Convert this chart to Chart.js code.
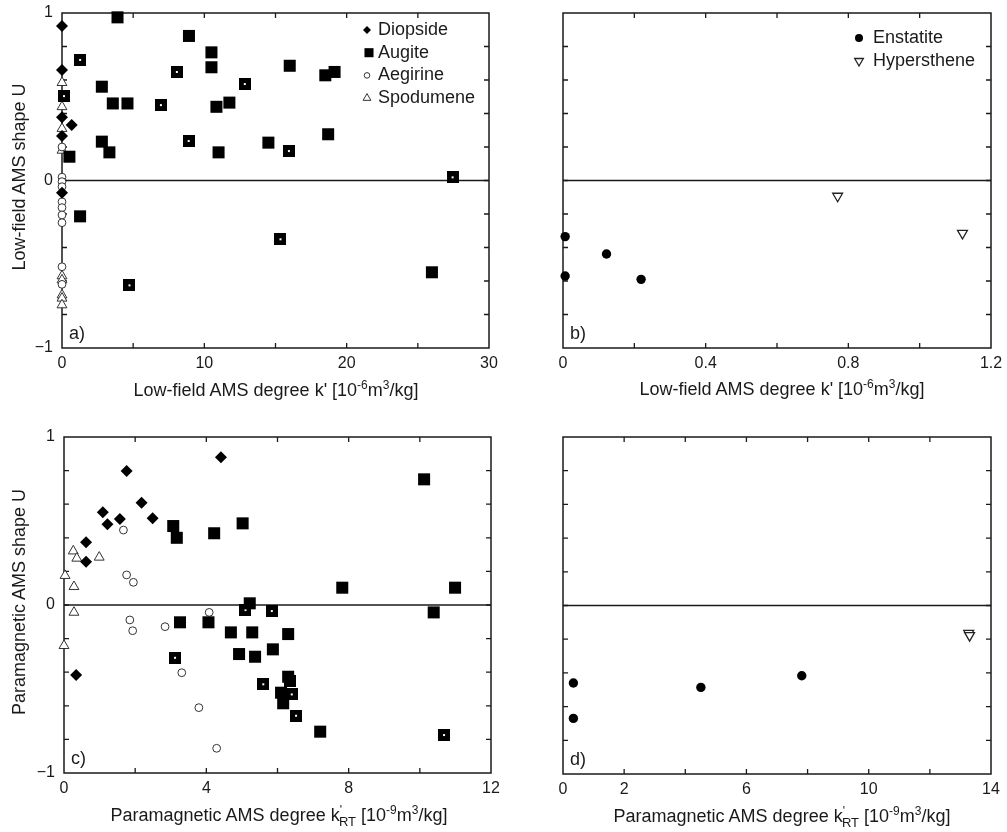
<!DOCTYPE html>
<html lang="en">
<head>
<meta charset="UTF-8">
<title>AMS shape U vs AMS degree</title>
<script src="https://cdn.jsdelivr.net/npm/chart.js"></script>
<style>
    body, html {
        margin: 0;
        padding: 0;
        background: #fff;
        font-family: 'Liberation Sans', Arial, sans-serif;
        color: #1a1a1a;
    }
    .page { position: relative; width: 1007px; height: 832px; overflow: hidden; }
    .panel { position: absolute; }
    .xt, .yt {
        position: absolute;
        white-space: nowrap;
        font-size: 18px;
        line-height: 20px;
    }
    .xt { transform: translate(-50%, -50%); }
    .yt { transform: translate(-50%, -50%) rotate(-90deg); }
    sup { font-size: 12px; vertical-align: 7px; line-height: 0; }
    sub { font-size: 13px; vertical-align: -5px; line-height: 0; }
</style>
</head>
<body>
<div class="page">
    <canvas id="chartA" class="panel" width="500" height="410" style="left:0;top:0"></canvas>
    <canvas id="chartB" class="panel" width="507" height="410" style="left:500px;top:0"></canvas>
    <canvas id="chartC" class="panel" width="500" height="412" style="left:0;top:420px"></canvas>
    <canvas id="chartD" class="panel" width="507" height="412" style="left:500px;top:420px"></canvas>

    <div class="yt" style="left:19px;top:177px">Low-field AMS shape U</div>
    <div class="yt" style="left:19px;top:602px">Paramagnetic AMS shape U</div>
    <div class="xt" style="left:276px;top:390px">Low-field AMS degree k' [10<sup>-6</sup>m<sup>3</sup>/kg]</div>
    <div class="xt" style="left:782px;top:389px">Low-field AMS degree k' [10<sup>-6</sup>m<sup>3</sup>/kg]</div>
    <div class="xt" style="left:279px;top:815px">Paramagnetic AMS degree k<sup>'</sup><sub style="margin-left:-3px">RT</sub> [10<sup>-9</sup>m<sup>3</sup>/kg]</div>
    <div class="xt" style="left:782px;top:816px">Paramagnetic AMS degree k<sup>'</sup><sub style="margin-left:-3px">RT</sub> [10<sup>-9</sup>m<sup>3</sup>/kg]</div>
</div>

<script>
// ---- panel a: low-field AMS (pyroxenes) ----
const aDiopsideX = [0, 0, 0, 0.68, 0, 0];
const aDiopsideY = [0.922, 0.66, 0.377, 0.331, 0.266, -0.073];
const aAugiteX = [3.9, 2.8, 3.57, 4.6, 8.92, 10.5, 10.5, 10.85, 11.76, 16.0, 18.5, 19.15, 18.7, 2.8, 3.33, 0.52, 11.0, 14.5, 25.99, 1.27];
const aAugiteY = [0.974, 0.56, 0.46, 0.46, 0.863, 0.765, 0.676, 0.44, 0.465, 0.685, 0.628, 0.648, 0.276, 0.232, 0.168, 0.142, 0.168, 0.226, -0.548, -0.214];
const aAugiteDotX = [1.27, 0.14, 6.95, 8.07, 12.84, 8.9, 15.94, 27.44, 15.35, 4.74];
const aAugiteDotY = [0.72, 0.504, 0.45, 0.648, 0.576, 0.236, 0.176, 0.019, -0.351, -0.626];
const aAegirineX = [0, 0, 0, 0, 0, 0, 0, 0, 0, 0];
const aAegirineY = [0.2, 0.02, -0.007, -0.037, -0.127, -0.162, -0.206, -0.252, -0.515, -0.62];
const aSpodumeneX = [0, 0, 0, 0, 0, 0, 0, 0, 0];
const aSpodumeneY = [0.584, 0.44, 0.31, 0.18, -0.57, -0.594, -0.684, -0.703, -0.743];

// ---- panel b: low-field AMS (orthopyroxenes) ----
const bEnstatiteX = [0.006, 0.006, 0.122, 0.219];
const bEnstatiteY = [-0.335, -0.57, -0.439, -0.59];
const bHyperstheneX = [0.77, 1.12];
const bHyperstheneY = [-0.093, -0.315];

// ---- panel c: paramagnetic AMS (pyroxenes) ----
const cDiopsideX = [4.41, 1.76, 2.18, 2.49, 1.09, 1.22, 1.57, 0.62, 0.62, 0.34];
const cDiopsideY = [0.879, 0.798, 0.609, 0.516, 0.552, 0.48, 0.512, 0.373, 0.258, -0.417];
const cAugiteX = [3.07, 3.17, 4.22, 5.02, 10.12, 7.82, 10.99, 10.39, 7.2, 3.26, 4.06, 4.69, 5.29, 4.92, 5.37, 5.22, 5.87, 6.3, 6.3, 6.1, 6.16];
const cAugiteY = [0.47, 0.40, 0.427, 0.486, 0.748, 0.103, 0.103, -0.044, -0.754, -0.103, -0.103, -0.163, -0.163, -0.292, -0.308, 0.01, -0.264, -0.173, -0.427, -0.522, -0.585];
const cAugiteDotX = [10.68, 3.12, 5.1, 5.84, 5.6, 6.35, 6.4, 6.52];
const cAugiteDotY = [-0.774, -0.314, -0.03, -0.036, -0.472, -0.452, -0.532, -0.659];
const cAegirineX = [1.67, 1.76, 1.95, 1.85, 1.93, 2.84, 3.31, 3.79, 4.08, 4.29];
const cAegirineY = [0.446, 0.179, 0.135, -0.089, -0.153, -0.129, -0.403, -0.611, -0.044, -0.853];
const cSpodumeneX = [0.26, 0.36, 0.99, 0.03, 0.28, 0.28, 0];
const cSpodumeneY = [0.321, 0.278, 0.284, 0.175, 0.109, -0.044, -0.242];

// ---- panel d: paramagnetic AMS (orthopyroxenes) ----
const dEnstatiteX = [0.34, 0.34, 4.51, 7.81];
const dEnstatiteY = [-0.46, -0.67, -0.486, -0.417];
const dHyperstheneX = [13.27, 13.3];
const dHyperstheneY = [-0.165, -0.178];

// tick labels
const yTickLabels = [-1, 0, 1];
const aTickLabels = [0, 10, 20, 30];
const bTickLabels = [0, 0.4, 0.8, 1.2];
const cTickLabels = [0, 4, 8, 12];
const dTickLabels = [0, 2, 6, 10, 14];

Chart.defaults.font.family = "'Liberation Sans', Arial, sans-serif";
Chart.defaults.color = '#1a1a1a';

function pts(xs, ys) {
    return xs.map((x, i) => ({ x: x, y: ys[i] }));
}

// square with a small white dot in the middle
const dotSquare = document.createElement('canvas');
dotSquare.width = 12;
dotSquare.height = 12;
(function () {
    const c = dotSquare.getContext('2d');
    c.fillStyle = '#000';
    c.fillRect(0, 0, 12, 12);
    c.fillStyle = '#fff';
    c.fillRect(5, 5, 2, 2);
})();

const styles = {
    diopside:  { pointStyle: 'rectRot', pointRadius: 6, pointBackgroundColor: '#000', pointBorderColor: '#000', pointBorderWidth: 0 },
    augite:    { pointStyle: 'rect', pointRadius: 8.5, pointBackgroundColor: '#000', pointBorderColor: '#000', pointBorderWidth: 0 },
    augiteDot: { pointStyle: dotSquare, pointRadius: 8.5, pointBackgroundColor: '#000', pointBorderColor: '#000', pointBorderWidth: 0 },
    aegirine:  { pointStyle: 'circle', pointRadius: 3.9, pointBackgroundColor: '#fff', pointBorderColor: '#333', pointBorderWidth: 1 },
    spodumene: { pointStyle: 'triangle', pointRadius: 5.7, pointBackgroundColor: '#fff', pointBorderColor: '#333', pointBorderWidth: 1 },
    enstatite: { pointStyle: 'circle', pointRadius: 4.7, pointBackgroundColor: '#000', pointBorderColor: '#000', pointBorderWidth: 0 },
    hypersthene: { pointStyle: 'triangle', pointRotation: 180, pointRadius: 5.7, pointBackgroundColor: '#fff', pointBorderColor: '#222', pointBorderWidth: 1.3 }
};

function ds(label, style, data) {
    return Object.assign({ label: label, data: data, showLine: false, clip: false, pointRotation: 0 }, styles[style]);
}

// box, inward ticks on all four sides, zero line and panel letter
const framePlugin = {
    id: 'frame',
    beforeDatasetsDraw(chart, args, opts) {
        const ctx = chart.ctx;
        const a = chart.chartArea;
        const xs = chart.scales.x, ys = chart.scales.y;
        ctx.save();
        ctx.strokeStyle = '#1a1a1a';
        ctx.lineWidth = 1.3;
        ctx.beginPath();
        xs.ticks.forEach(t => {
            const px = xs.getPixelForValue(t.value);
            if (px <= a.left + 1 || px >= a.right - 1) return;
            ctx.moveTo(px, a.bottom); ctx.lineTo(px, a.bottom - 5);
            ctx.moveTo(px, a.top); ctx.lineTo(px, a.top + 5);
        });
        ys.ticks.forEach(t => {
            const py = ys.getPixelForValue(t.value);
            if (py <= a.top + 1 || py >= a.bottom - 1) return;
            ctx.moveTo(a.left, py); ctx.lineTo(a.left + 5, py);
            ctx.moveTo(a.right, py); ctx.lineTo(a.right - 5, py);
        });
        ctx.stroke();
        const z = ys.getPixelForValue(0);
        ctx.beginPath();
        ctx.moveTo(a.left, z); ctx.lineTo(a.right, z);
        ctx.stroke();
        ctx.lineWidth = 1.5;
        ctx.strokeRect(a.left, a.top, a.right - a.left, a.bottom - a.top);
        ctx.fillStyle = '#1a1a1a';
        ctx.font = "18px 'Liberation Sans', Arial, sans-serif";
        ctx.textBaseline = 'middle';
        ctx.fillText(opts.label, a.left + 7, a.bottom - 14);
        ctx.restore();
    }
};

// legend drawn inside the plot area, top right
const legendPlugin = {
    id: 'innerLegend',
    afterDraw(chart, args, opts) {
        if (!opts.items) return;
        const ctx = chart.ctx;
        const a = chart.chartArea;
        opts.items.forEach((it, i) => {
            const d = chart.data.datasets[it.ds];
            const x = a.left + opts.x;
            const y = a.top + opts.y + i * opts.gap;
            ctx.save();
            ctx.fillStyle = d.pointBackgroundColor;
            ctx.strokeStyle = d.pointBorderColor;
            ctx.lineWidth = d.pointBorderWidth;
            Chart.helpers.drawPoint(ctx, {
                pointStyle: d.pointStyle, radius: it.r, rotation: d.pointRotation || 0,
                borderWidth: d.pointBorderWidth
            }, x + (it.dx || 0), y);
            ctx.fillStyle = '#1a1a1a';
            ctx.font = "18px 'Liberation Sans', Arial, sans-serif";
            ctx.textBaseline = 'middle';
            ctx.fillText(d.label, a.left + opts.tx, y);
            ctx.restore();
        });
    }
};

function near(v, list) {
    return list.find(l => Math.abs(v - l) < 1e-6);
}

function makeChart(id, o) {
    return new Chart(document.getElementById(id), {
        type: 'scatter',
        data: { datasets: o.datasets },
        options: {
            responsive: false,
            animation: false,
            events: [],
            layout: { padding: o.pad },
            plugins: {
                legend: { display: false },
                tooltip: { enabled: false },
                frame: { label: o.label },
                innerLegend: o.legend || {}
            },
            scales: {
                x: {
                    type: 'linear', min: o.xMin, max: o.xMax,
                    grid: { display: false, drawTicks: false },
                    border: { display: false },
                    ticks: {
                        stepSize: o.xStep, autoSkip: false, maxRotation: 0, padding: 6,
                        font: { size: 16 },
                        callback: v => {
                            const l = near(v, o.xLabels);
                            return l === undefined ? '' : String(l);
                        }
                    },
                    afterFit: s => { s.height = o.xH; s.paddingLeft = 0; s.paddingRight = 0; }
                },
                y: {
                    type: 'linear', min: -1, max: 1,
                    grid: { display: false, drawTicks: false },
                    border: { display: false },
                    ticks: {
                        stepSize: 0.2, autoSkip: false, padding: 9,
                        display: o.yLabels,
                        font: { size: 16 },
                        callback: v => {
                            const l = near(v, yTickLabels);
                            return l === undefined ? '' : (l < 0 ? '\u2212' + Math.abs(l) : String(l));
                        }
                    },
                    afterFit: s => { s.width = o.yW; s.paddingTop = 0; s.paddingBottom = 0; }
                }
            }
        },
        plugins: [framePlugin, legendPlugin]
    });
}

makeChart('chartA', {
    label: 'a)', xMin: 0, xMax: 30, xStep: 5, xLabels: aTickLabels,
    pad: { top: 13, right: 11, left: 0, bottom: 0 }, yW: 62, xH: 62, yLabels: true,
    datasets: [
        ds('Diopside', 'diopside', pts(aDiopsideX, aDiopsideY)),
        ds('Augite', 'augite', pts(aAugiteX, aAugiteY)),
        ds('Augite', 'augiteDot', pts(aAugiteDotX, aAugiteDotY)),
        ds('Aegirine', 'aegirine', pts(aAegirineX, aAegirineY)),
        ds('Spodumene', 'spodumene', pts(aSpodumeneX, aSpodumeneY))
    ],
    legend: {
        x: 305, tx: 316, y: 17, gap: 22.7,
        items: [{ ds: 0, r: 4 }, { ds: 1, r: 6.4, dx: 2 }, { ds: 3, r: 2.8 }, { ds: 4, r: 4.5 }]
    }
});

makeChart('chartB', {
    label: 'b)', xMin: 0, xMax: 1.2, xStep: 0.2, xLabels: bTickLabels,
    pad: { top: 13, right: 16, left: 0, bottom: 0 }, yW: 63, xH: 62, yLabels: false,
    datasets: [
        ds('Enstatite', 'enstatite', pts(bEnstatiteX, bEnstatiteY)),
        ds('Hypersthene', 'hypersthene', pts(bHyperstheneX, bHyperstheneY))
    ],
    legend: {
        x: 296, tx: 310, y: 25, gap: 23,
        items: [{ ds: 0, r: 4 }, { ds: 1, r: 5 }]
    }
});

makeChart('chartC', {
    label: 'c)', xMin: 0, xMax: 12, xStep: 2, xLabels: cTickLabels,
    pad: { top: 17, right: 9, left: 0, bottom: 0 }, yW: 64, xH: 59, yLabels: true,
    datasets: [
        ds('Diopside', 'diopside', pts(cDiopsideX, cDiopsideY)),
        ds('Augite', 'augite', pts(cAugiteX, cAugiteY)),
        ds('Augite', 'augiteDot', pts(cAugiteDotX, cAugiteDotY)),
        ds('Aegirine', 'aegirine', pts(cAegirineX, cAegirineY)),
        ds('Spodumene', 'spodumene', pts(cSpodumeneX, cSpodumeneY))
    ]
});

makeChart('chartD', {
    label: 'd)', xMin: 0, xMax: 14, xStep: 2, xLabels: dTickLabels,
    pad: { top: 17, right: 16, left: 0, bottom: 0 }, yW: 63, xH: 58, yLabels: false,
    datasets: [
        ds('Enstatite', 'enstatite', pts(dEnstatiteX, dEnstatiteY)),
        ds('Hypersthene', 'hypersthene', pts(dHyperstheneX, dHyperstheneY))
    ]
});
</script>
</body>
</html>
